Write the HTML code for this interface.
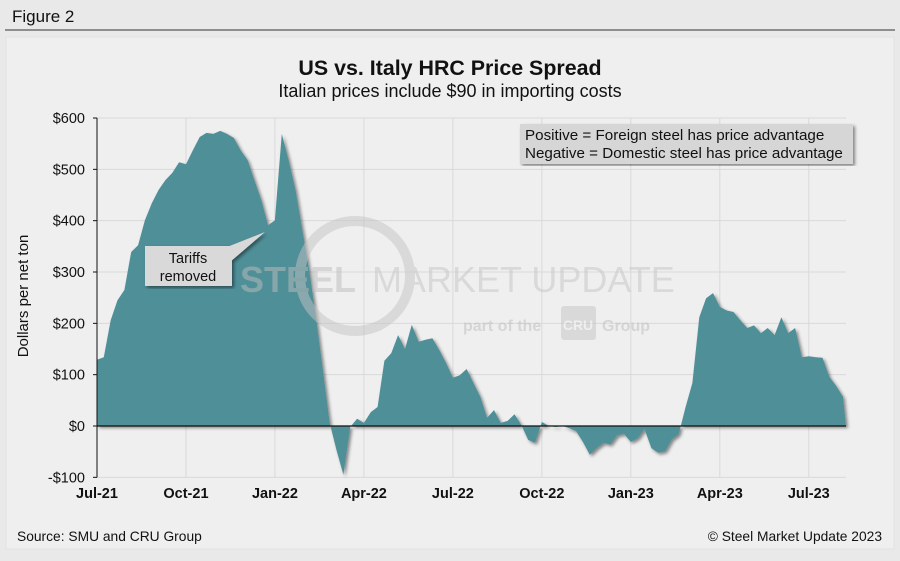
<!DOCTYPE html>
<html><head><meta charset="utf-8"><style>
body{margin:0;width:900px;height:556px;background:#e9e9e9;font-family:"Liberation Sans",Arial,sans-serif;overflow:hidden}
</style></head><body>
<svg width="900" height="556" xmlns="http://www.w3.org/2000/svg">
<defs><filter id="sh" x="-5%" y="-5%" width="110%" height="110%"><feDropShadow dx="2" dy="2" stdDeviation="1.5" flood-color="#000" flood-opacity="0.45"/></filter></defs>
<rect x="0" y="0" width="900" height="556" fill="#e9e9e9"/>
<text x="12" y="22" font-size="17" fill="#111">Figure 2</text>
<line x1="5" y1="30" x2="895" y2="30" stroke="#333" stroke-width="1"/>
<rect x="6" y="37" width="888" height="512" fill="#efefef" stroke="#e2e2e2"/>
<text x="450" y="75" font-size="21.4" font-weight="bold" text-anchor="middle" fill="#111">US vs. Italy HRC Price Spread</text>
<text x="450" y="97" font-size="18" text-anchor="middle" fill="#111">Italian prices include $90 in importing costs</text>
<g id="grid"></g>
<g id="plot"></g>
<g opacity="0.5">
<circle cx="355" cy="276" r="55" fill="none" stroke="#c4c4c4" stroke-width="10"/>
<text x="240" y="292" font-size="36" font-weight="bold" fill="#bdbdbd">STEEL</text>
<text x="372" y="292" font-size="36" fill="#c4c4c4">MARKET UPDATE</text>
<text x="463" y="331" font-size="16" font-weight="bold" fill="#bdbdbd">part of the</text>
<rect x="561" y="306" width="35" height="34" rx="3" fill="#c4c4c4"/>
<text x="578" y="330" font-size="14" font-weight="bold" fill="#efefef" text-anchor="middle">CRU</text>
<text x="602" y="331" font-size="16" font-weight="bold" fill="#bdbdbd">Group</text>
</g>
<g id="axes"></g>
<g filter="url(#sh)">
<polygon points="222,249 265,232 230,262" fill="#d9d9d9"/>
<rect x="145" y="246" width="87" height="40" fill="#d9d9d9"/>
</g>
<text x="188" y="263" font-size="14.5" text-anchor="middle" fill="#111">Tariffs</text>
<text x="188" y="281" font-size="14.5" text-anchor="middle" fill="#111">removed</text>
<rect x="520" y="124" width="333" height="40" fill="#d6d6d6" filter="url(#sh)"/>
<text x="525" y="140" font-size="15.2" fill="#111">Positive = Foreign steel has price advantage</text>
<text x="525" y="158" font-size="15.2" fill="#111">Negative = Domestic steel has price advantage</text>
<text x="28" y="296" font-size="15" fill="#111" text-anchor="middle" transform="rotate(-90 28 296)">Dollars per net ton</text>
<text x="17" y="541" font-size="13.8" fill="#111">Source: SMU and CRU Group</text>
<text x="882" y="541" font-size="13.8" fill="#111" text-anchor="end">© Steel Market Update 2023</text>
</svg>
<script>
const values=[129,134,206,245,265,339,352,401,434,460,479,493,514,510,537,563,571,569,575,569,561,537,518,479,440,391,401,569,518,460,382,304,212,109,6,-47,-95,-2,14,6,27,37,127,142,177,150,197,164,168,171,148,123,94,99,111,
84,57,16,31,6,10,23,2,-27,-33,8,0,-2,0,-4,-10,-31,-56,-43,-33,-36,-18,-15,-31,-24,-6,-43,-52,-49,-26,-16,37,84,212,249,259,232,225,222,206,191,196,181,191,177,212,181,191,134,136,134,133,96,78,57];
const yTicks=[-100,0,100,200,300,400,500,600];
const yTickLabels=["-$100","$0","$100","$200","$300","$400","$500","$600"];
const xTickLabels=["Jul-21","Oct-21","Jan-22","Apr-22","Jul-22","Oct-22","Jan-23","Apr-23","Jul-23"];
const xTickPos=[0,13,26,39,52,65,78,91,104];
const NS="http://www.w3.org/2000/svg";
const X0=97,X1=843,Y0=426,YS=0.5133;
const xs=i=>X0+i*(X1-X0)/(values.length-1);
const ys=v=>Y0-v*YS;
function mk(t,a,p){const e=document.createElementNS(NS,t);for(const k in a)e.setAttribute(k,a[k]);p.appendChild(e);return e;}
const grid=document.getElementById('grid'),plot=document.getElementById('plot'),axes=document.getElementById('axes');
yTicks.forEach((v,i)=>{
 const l=mk('line',{x1:X0,x2:846,y1:ys(v),y2:ys(v),stroke:'#d9d9d9','stroke-width':1},grid);
 
 
 mk('line',{x1:X0-4,x2:X0,y1:ys(v),y2:ys(v),stroke:'#111'},axes);
 const t=mk('text',{x:X0-12,y:ys(v)+5,'font-size':14.5,'text-anchor':'end',fill:'#111'},axes);
 t.textContent=yTickLabels[i];
 
 
});
xTickPos.forEach((p,i)=>{
 const x=xs(p);
 if(i>0){const l=mk('line',{x1:x,x2:x,y1:ys(600),y2:ys(-100),stroke:'#d9d9d9'},grid);
 
 }
 const t=mk('text',{x:x,y:498,'font-size':14.5,'font-weight':'bold','text-anchor':'middle',fill:'#111'},axes);
 t.textContent=xTickLabels[i];
 
 
});
let d='M'+xs(0)+','+ys(0);
values.forEach((v,i)=>{d+=' L'+xs(i).toFixed(1)+','+ys(v).toFixed(1);});
d+=' L'+(xs(values.length-1)+3)+','+ys(0)+' Z';
const a=mk('path',{d:d,fill:'#4f8f98',filter:'url(#sh)'},plot);


const z=mk('line',{x1:X0,x2:846,y1:ys(0),y2:ys(0),stroke:'#111','stroke-width':1.2},axes);


const ya=mk('line',{x1:X0,x2:X0,y1:ys(600),y2:ys(-100),stroke:'#111'},axes);


</script>
</body></html>
